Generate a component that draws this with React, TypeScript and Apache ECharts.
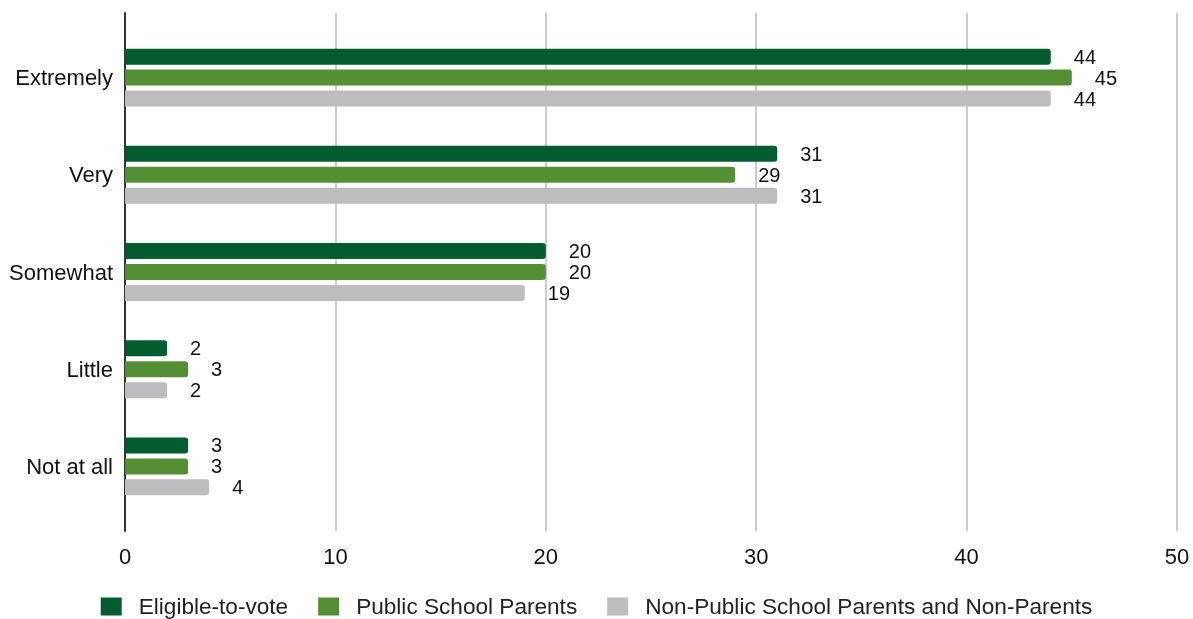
import React, { useEffect, useRef } from "react";
import * as echarts from "echarts";

const categories = ["Extremely", "Very", "Somewhat", "Little", "Not at all"];
const eligible = [44, 31, 20, 2, 3];
const publicParents = [45, 29, 20, 3, 3];
const nonPublic = [44, 31, 19, 2, 4];
const seriesNames = [
  "Eligible-to-vote",
  "Public School Parents",
  "Non-Public School Parents and Non-Parents",
];
const colors = ["#035c2f", "#558f35", "#bdbdbf"];
const xTicks = { min: 0, max: 50, interval: 10 };

const FONT = "'Liberation Sans', Arial, sans-serif";
const FS = 22;

export default function App() {
  const ref = useRef<HTMLDivElement>(null);
  useEffect(() => {
    if (!ref.current) return;
    const chart = echarts.init(ref.current, null, { renderer: "svg" });
    const mk = (name: string, data: number[], color: string) => ({
      name,
      type: "bar",
      xAxisIndex: 0,
      yAxisIndex: 0,
      data,
      barWidth: 16,
      barGap: "31%",
      itemStyle: { color, borderRadius: [0, 3, 3, 0] },
      label: {
        show: true,
        position: "right",
        distance: 23,
        color: "#111",
        fontSize: 20,
        lineHeight: 19,
        fontFamily: FONT,
      },
    });
    chart.setOption({
      animation: false,
      textStyle: { fontFamily: FONT },
      grid: [
        { left: 125, right: 16, top: 29, height: 486 },
        { left: 125, right: 16, top: 13, height: 518 },
      ],
      xAxis: [
        {
          gridIndex: 0,
          type: "value",
          ...xTicks,
          show: false,
        },
        {
          gridIndex: 1,
          type: "value",
          ...xTicks,
          axisLine: { show: false },
          axisTick: { show: false },
          splitLine: { show: true, lineStyle: { color: "#cccccc", width: 2 } },
          axisLabel: { color: "#111", fontSize: FS, fontFamily: FONT, margin: 14 },
        },
      ],
      yAxis: [
        {
          gridIndex: 0,
          type: "category",
          data: categories,
          inverse: true,
          axisLine: { show: false },
          axisTick: { show: false },
          axisLabel: { color: "#111", fontSize: FS, fontFamily: FONT, margin: 12 },
        },
        {
          gridIndex: 1,
          type: "value",
          min: 0,
          max: 1,
          axisLine: { show: true, lineStyle: { color: "#333", width: 2 } },
          axisTick: { show: false },
          axisLabel: { show: false },
          splitLine: { show: false },
        },
      ],
      legend: {
        top: 590,
        left: "center",
        icon: "rect",
        itemWidth: 21,
        itemHeight: 18,
        itemGap: 30,
        textStyle: {
          color: "#222",
          fontSize: 22.6,
          fontFamily: FONT,
          padding: [0, 0, 0, 12],
        },
        data: seriesNames,
      },
      series: [
        mk(seriesNames[0], eligible, colors[0]),
        mk(seriesNames[1], publicParents, colors[1]),
        mk(seriesNames[2], nonPublic, colors[2]),
      ],
    });
    return () => chart.dispose();
  }, []);
  return (
    <div
      ref={ref}
      style={{ position: "fixed", left: 0, top: 0, width: 1193, height: 619 }}
    />
  );
}
